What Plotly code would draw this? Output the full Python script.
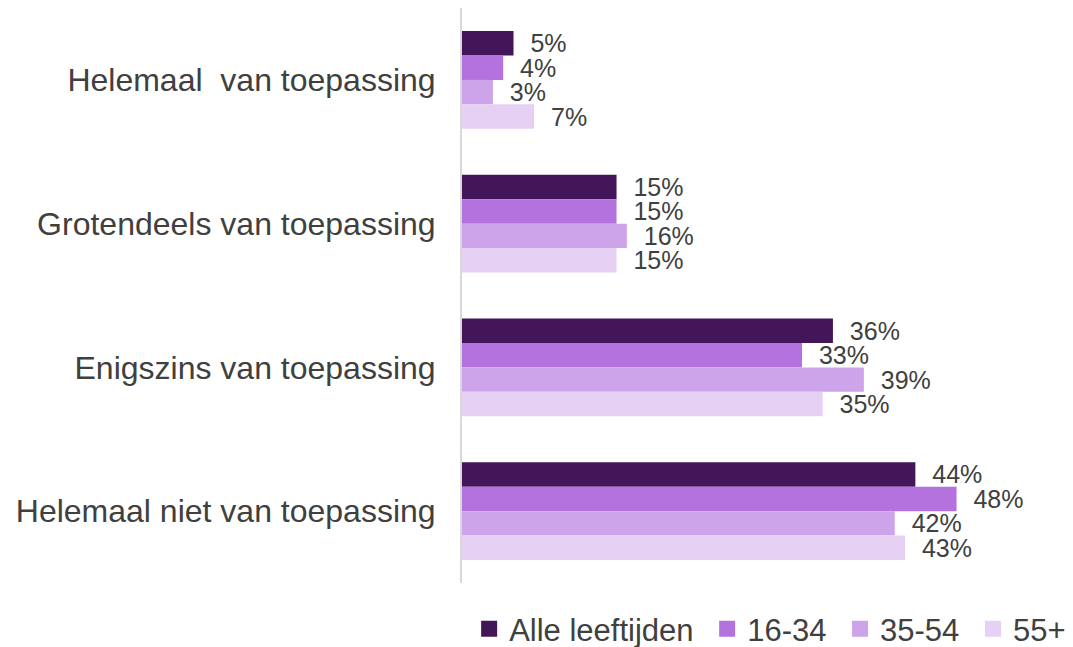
import plotly.graph_objects as go

categories = ["Helemaal  van toepassing", "Grotendeels van toepassing",
              "Enigszins van toepassing", "Helemaal niet van toepassing"]
series_names = ["Alle leeftijden", "16-34", "35-54", "55+"]
alle = [5, 15, 36, 44]
age_16_34 = [4, 15, 33, 48]
age_35_54 = [3, 16, 39, 42]
age_55 = [7, 15, 35, 43]
series_values = [alle, age_16_34, age_35_54, age_55]
colors = ["#43165A", "#B472DE", "#CDA3E9", "#E6D1F4"]

FONT = "Liberation Sans, Arial, sans-serif"
cat_labels = [c.replace("  ", "\u00a0 ") for c in categories]

fig = go.Figure()
for name, vals, col in zip(series_names, series_values, colors):
    fig.add_trace(go.Bar(
        y=cat_labels, x=vals, name=name, orientation="h", showlegend=False,
        marker=dict(color=col, line=dict(width=0)),
        text=["\u00a0\u00a0" + f"{v}%" for v in vals],
        textposition="outside", constraintext="none", cliponaxis=False,
        textfont=dict(family=FONT, size=25, color="#404040"),
        hoverinfo="skip",
    ))
# legend entries with larger square swatches
for name, col in zip(series_names, colors):
    fig.add_trace(go.Scatter(
        x=[None], y=[None], mode="markers", name=name + "\u00a0",
        marker=dict(symbol="square", size=16, color=col), hoverinfo="skip",
    ))

# body has an 8px default margin in the page, so the figure is sized to fit
fig.update_layout(
    width=1065, height=639,
    barmode="group", bargap=0.32, bargroupgap=0,
    plot_bgcolor="white", paper_bgcolor="white",
    margin=dict(l=454, r=0, t=0, b=64, autoexpand=False),
    font=dict(family=FONT, size=31, color="#404040"),
    xaxis=dict(visible=False, range=[0, 59.3]),
    yaxis=dict(autorange="reversed", showline=True, linecolor="#D9D9D9", linewidth=2,
               ticks="", showgrid=False, ticklabelstandoff=18, automargin=False,
               tickfont=dict(family=FONT, size=32, color="#404040")),
    legend=dict(orientation="h", xref="container", yref="container",
                x=0.433, xanchor="left", y=0.028, yanchor="middle",
                font=dict(family=FONT, size=31, color="#404040"), traceorder="normal",
                itemwidth=30, bgcolor="rgba(0,0,0,0)"),
    showlegend=True,
)
fig.write_html("out.html")
